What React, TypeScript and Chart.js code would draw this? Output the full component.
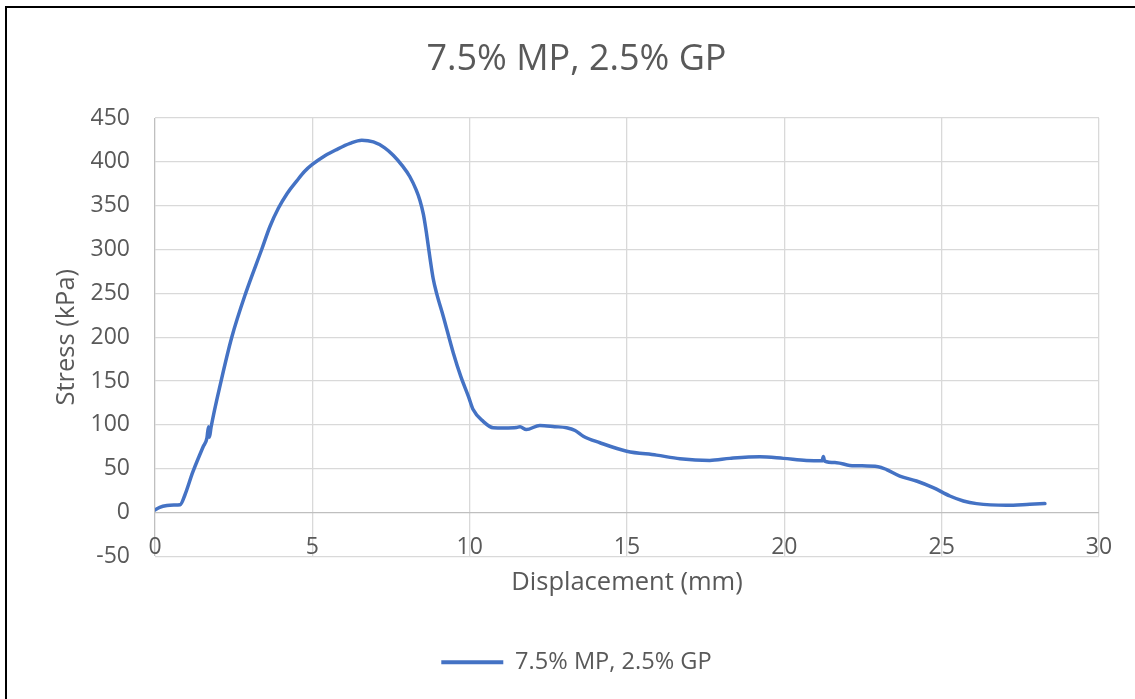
import React, { useEffect, useRef } from "react";
import { Chart, registerables } from "chart.js";

Chart.register(...registerables);

const chartTitle = "7.5% MP, 2.5% GP";
const seriesName = "7.5% MP, 2.5% GP";
const xAxisTitle = "Displacement (mm)";
const yAxisTitle = "Stress (kPa)";

const displacement = [
  0, 0.15, 0.38, 0.6, 0.8, 0.95, 1.2, 1.53, 1.65, 1.7, 1.73, 1.78, 2.1, 2.44,
  2.88, 3.39, 3.65, 3.92, 4.2, 4.5, 4.75, 5.0, 5.4, 5.77, 6.2, 6.57, 6.94, 7.3,
  7.57, 7.85, 8.1, 8.3, 8.42, 8.53, 8.63, 8.74, 8.84, 8.95, 9.16, 9.48, 9.72,
  9.96, 10.11, 10.43, 10.75, 11.1, 11.49, 11.6, 11.8, 12.23, 12.7, 13.08, 13.35,
  13.61, 14.14, 14.99, 15.94, 16.68, 17.63, 18.27, 19.22, 19.97, 20.7, 21.2,
  21.24, 21.28, 21.66, 22.08, 22.98, 23.25, 23.67, 24.2, 24.73, 25.26, 25.69,
  26.11, 27.06, 27.8, 28.28,
];

const stress = [
  3, 6, 8, 8.5, 9, 20, 46, 75, 85, 98, 86, 97, 150, 200, 250, 300, 326, 347,
  364, 378, 389, 397, 407, 414, 421, 424.6, 422.7, 416, 407.5, 396, 383, 368,
  356, 340, 318, 290, 267, 250, 224, 182, 155, 132.6, 117.5, 104, 96.7, 96.5,
  97, 97.8, 94.7, 99.3, 98, 96.7, 93.6, 87, 79.6, 70, 65.5, 61.4, 59.5, 61.8,
  63.7, 61.8, 59.5, 59, 64, 58.7, 56.9, 53.8, 52.3, 49, 41.6, 36, 28.4, 18.9,
  13.2, 10.2, 8.3, 9.4, 10.2,
];

const xMin = 0;
const xMax = 30;
const xStep = 5;
const yMin = -50;
const yMax = 450;
const yStep = 50;

const FONT = "'Open Sans', 'DejaVu Sans', sans-serif";
const TEXT = "#595959";
const LINE = "#4472C4";

export default function App() {
  const ref = useRef<HTMLCanvasElement | null>(null);

  useEffect(() => {
    if (!ref.current) return;
    const points = displacement.map((x, i) => ({ x, y: stress[i] }));
    const chart = new Chart(ref.current, {
      type: "line",
      data: {
        datasets: [
          {
            label: seriesName,
            data: points,
            borderColor: LINE,
            backgroundColor: LINE,
            borderWidth: 3.5,
            pointRadius: 0,
            cubicInterpolationMode: "monotone",
            borderCapStyle: "round",
            borderJoinStyle: "round",
          },
        ],
      },
      options: {
        animation: false,
        responsive: false,
        maintainAspectRatio: false,
        layout: { padding: { left: 18, right: 0, top: 0, bottom: 15 } },
        plugins: {
          title: {
            display: true,
            text: chartTitle,
            color: TEXT,
            font: { family: FONT, size: 36, weight: "normal" },
            padding: { top: 38, bottom: 36.8 },
          },
          legend: {
            display: true,
            position: "bottom",
            labels: {
              color: TEXT,
              font: { family: FONT, size: 23.6 },
              boxWidth: 62,
              boxHeight: 4,
              padding: 10,
              generateLabels: (c: any) =>
                c.data.datasets.map((ds: any, i: number) => ({
                  text: ds.label,
                  fillStyle: LINE,
                  strokeStyle: LINE,
                  lineWidth: 0,
                  hidden: false,
                  datasetIndex: i,
                  fontColor: TEXT,
                })),
            },
          },
          tooltip: { enabled: false },
        },
        scales: {
          x: {
            type: "linear",
            min: xMin,
            max: xMax,
            border: { display: false },
            grid: {
              drawTicks: false,
              lineWidth: 1.3,
              color: (ctx: any) => (ctx.tick && ctx.tick.value === 0 ? "#bfbfbf" : "#d9d9d9"),
            },
            ticks: {
              stepSize: xStep,
              color: TEXT,
              font: { family: FONT, size: 23 },
              mirror: true,
              padding: -4.8,
              maxRotation: 0,
            },
            title: {
              display: true,
              text: xAxisTitle,
              color: TEXT,
              font: { family: FONT, size: 25.5 },
              padding: { top: 0, bottom: 42.7 },
            },
            afterFit: (s: any) => {
              s.height = 84;
            },
          },
          y: {
            type: "linear",
            min: yMin,
            max: yMax,
            border: { display: false },
            grid: {
              drawTicks: false,
              lineWidth: 1.3,
              color: (ctx: any) => (ctx.tick && ctx.tick.value === 0 ? "#bfbfbf" : "#d9d9d9"),
            },
            ticks: {
              stepSize: yStep,
              color: TEXT,
              font: { family: FONT, size: 23 },
              padding: 25,
            },
            title: {
              display: true,
              text: yAxisTitle,
              color: TEXT,
              font: { family: FONT, size: 25.5 },
              padding: { top: 33.7, bottom: 0 },
            },
            afterFit: (s: any) => {
              s.width = 137;
            },
          },
          yRight: {
            type: "linear",
            position: "right",
            display: true,
            border: { display: false },
            grid: { display: false, drawTicks: false },
            ticks: { display: false },
            afterFit: (s: any) => {
              s.width = 36;
            },
          },
        },
      },
    });
    return () => chart.destroy();
  }, []);

  return (
    <div
      style={{
        position: "absolute",
        left: 0,
        top: 0,
        width: 1135,
        height: 699,
        overflow: "hidden",
        background: "#fff",
      }}
    >
      <canvas ref={ref} width={1135} height={699} style={{ position: "absolute", left: 0, top: 0, width: 1135, height: 699 }} />
      <div
        style={{
          position: "absolute",
          left: 5,
          top: 6,
          right: 0,
          bottom: 0,
          borderLeft: "2px solid #000",
          borderTop: "2px solid #000",
          pointerEvents: "none",
        }}
      />
    </div>
  );
}
